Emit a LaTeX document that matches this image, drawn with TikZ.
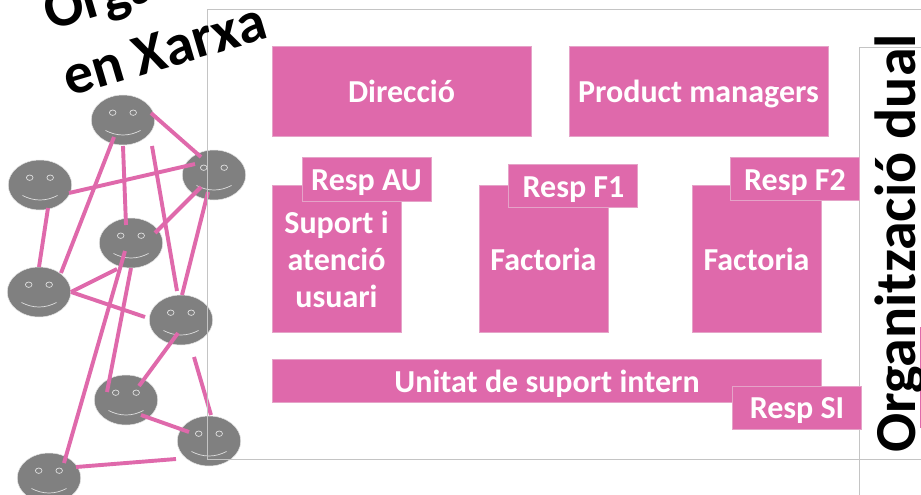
\documentclass[tikz,border=0pt]{standalone}
\usepackage{fontspec}
\setmainfont{Carlito}
\usetikzlibrary{shapes.geometric,calc}
\definecolor{rosa}{HTML}{DF69AB}
\definecolor{rosavora}{HTML}{E5A3C8}
\definecolor{marc}{HTML}{C4C4C4}
\definecolor{cara}{HTML}{808080}
\tikzset{
  rosabox/.style={draw=rosavora,line width=0.9pt,fill=rosa,inner sep=0pt,anchor=north west},
  rosatext/.style={text=white,font=\bfseries\fontsize{32}{37}\selectfont,align=center,inner sep=0pt},
  facenode/.style={ellipse,draw=white!90!black,line width=0.5pt,fill=cara,minimum width=63.5pt,minimum height=50pt,inner sep=0pt},
  facedet/.style={draw=white!88!black,line width=0.7pt},
  enllac/.style={draw=rosa,line width=3.9pt},
  frameline/.style={draw=marc,line width=0.8pt},
  titol/.style={font=\bfseries\fontsize{58}{66}\selectfont,text=black,inner sep=0pt}
}
\newcommand{\smiley}[3]{%
  \node[facenode] (#1) at (#2,#3) {};
  \draw[facedet] (#1) ++(-10.3,-7.3) ellipse (3.3 and 2.7);
  \draw[facedet] (#1) ++(10.2,-7.3) ellipse (3.3 and 2.7);
  \draw[facedet] ($(#1)+(-17.5,10.5)$) .. controls ($(#1)+(-6,16.5)$) and ($(#1)+(6,16.5)$) .. ($(#1)+(17.5,10.5)$);
}
\newcommand{\rbox}[7]{%
  \node[rosabox,minimum width=#4 pt - #2 pt,minimum height=#5 pt - #3 pt] (#1) at (#2,#3) {};
  \node[rosatext] (#1t) at (#6,#7) {\rboxtext};
}
\begin{document}
\begin{tikzpicture}[x=1pt,y=-1pt]
\useasboundingbox (0,0) rectangle (921,495);
\clip (0,0) rectangle (921,495);
\fill[white] (0,0) rectangle (921,495);

% faces
\smiley{fa}{123}{120}
\smiley{fb}{40}{185}
\smiley{fc}{214}{175}
\smiley{fd}{131}{243}
\smiley{fe}{39}{292}
\smiley{ff}{181}{320}
\smiley{fg}{126}{400}
\smiley{fh}{209}{441}
\smiley{fi}{49}{478}

% connectors
\draw[enllac] ($(fa)+(28,-7)$) -- ($(fc)+(-13,-18)$);
\draw[enllac] ($(fa)+(-9,17)$) -- ($(fe)+(22,-19)$);
\draw[enllac] ($(fa)+(0,26)$) -- ($(fd)+(-5,-18)$);
\draw[enllac] ($(fa)+(29,26)$) -- ($(ff)+(-4,-29)$);
\draw[enllac] ($(fb)+(29,8)$) -- ($(fc)+(-19,-11)$);
\draw[enllac] ($(fb)+(8,23)$) -- ($(fe)+(0,-25)$);
\draw[enllac] ($(fc)+(-13,12)$) -- ($(fd)+(24,-10)$);
\draw[enllac] ($(fc)+(-6,17)$) -- ($(ff)+(1,-25)$);
\draw[enllac] ($(fe)+(32,0)$) -- ($(fd)+(-14,26)$);
\draw[enllac] ($(fe)+(32,0)$) -- ($(ff)+(-36,-3)$);
\draw[enllac] ($(fd)+(-6,8)$) -- ($(fi)+(15,-15)$);
\draw[enllac] ($(fd)+(0,25)$) -- ($(fg)+(-19,-8)$);
\draw[enllac] ($(ff)+(-3,13)$) -- ($(fg)+(13,-14)$);
\draw[enllac] ($(ff)+(13,37)$) -- ($(fh)+(2,-26)$);
\draw[enllac] ($(fg)+(15,15)$) -- ($(fh)+(-20,-9)$);
\draw[enllac] ($(fi)+(27,-11)$) -- ($(fh)+(-33,18)$);

% frames
\draw[frameline] (921,9) -- (207.5,9) -- (207.5,459) -- (921,459);
\draw[frameline] (921,47) -- (859,47) -- (859,495);
\draw[draw=rosa,line width=0.8pt] (920.5,327) -- (920.5,428);

% boxes
\def\rboxtext{Direcció}\rbox{dir}{272}{46}{530.5}{136}{401.5}{91}
\def\rboxtext{Product managers}\rbox{pm}{569}{46}{827.5}{136}{698.5}{94}
\def\rboxtext{Suport i\\atenció\\usuari}\rbox{sup}{272}{185}{401}{332}{336.5}{259}
\def\rboxtext{Factoria}\rbox{fone}{478.5}{185}{608}{332}{543.5}{259}
\def\rboxtext{Factoria}\rbox{ftwo}{691.5}{185}{821}{332}{756.5}{259}
\def\rboxtext{Unitat de suport intern}\rbox{usi}{272}{359}{821}{401.5}{547}{384}
\def\rboxtext{Resp AU}\rbox{rau}{301.5}{157}{431}{200.5}{366.5}{183}
\def\rboxtext{Resp F1}\rbox{rfone}{508}{164}{637}{207}{573.5}{190}
\def\rboxtext{Resp F2}\rbox{rftwo}{729.5}{157}{858.5}{200}{795}{183}
\def\rboxtext{Resp SI}\rbox{rsi}{732}{386}{861}{429}{797}{411}

% titles
\node[titol,rotate=16.5,anchor=base west] (txa) at (50,31) {Organització};
\node[titol,rotate=16.5,anchor=base west] (txb) at (69,97) {en Xarxa};
\node[titol,rotate=90,anchor=base west] (txc) at (915,453) {Organització dual};
\end{tikzpicture}
\end{document}
